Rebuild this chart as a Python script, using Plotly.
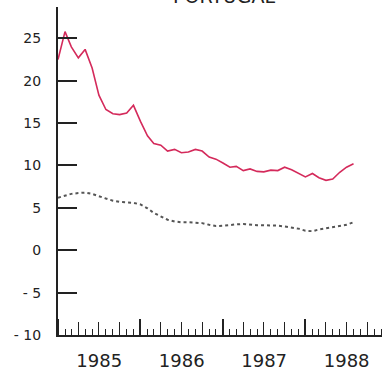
import plotly.graph_objects as go

# Monthly inflation, % year on year, from January 1985
months = [f"{1985 + i // 12}-{i % 12 + 1:02d}-01" for i in range(44)]

portugal = [
    22.5, 25.8, 24.0, 22.7, 23.7, 21.5, 18.3, 16.6, 16.1, 16.0, 16.2, 17.1,
    15.2, 13.5, 12.6, 12.4, 11.7, 11.9, 11.5, 11.6, 11.9, 11.7, 11.0, 10.75,
    10.3, 9.8, 9.9, 9.4, 9.6, 9.3, 9.25, 9.45, 9.4, 9.8, 9.5, 9.05,
    8.65, 9.05, 8.55, 8.25, 8.4, 9.2, 9.8, 10.2,
]

reference = [
    6.2, 6.45, 6.65, 6.75, 6.8, 6.65, 6.35, 6.1, 5.85, 5.7, 5.65, 5.6,
    5.4, 4.95, 4.4, 3.95, 3.6, 3.4, 3.3, 3.3, 3.25, 3.2, 3.0, 2.85,
    2.9, 3.0, 3.05, 3.1, 3.0, 2.95, 2.95, 2.95, 2.9, 2.8, 2.7, 2.55,
    2.3, 2.25, 2.45, 2.6, 2.7, 2.85, 3.0, 3.3,
]

y_ticks = [-10, -5, 0, 5, 10, 15, 20, 25]
y_labels = ["- 10", "- 5", "0", "5", "10", "15", "20", "25"]

title_text = "PORTUGAL"

ink = "#222222"
font_family = "DejaVu Sans"
x_range = ["1985-01-01", "1988-12-05"]

fig = go.Figure()

fig.add_trace(go.Scatter(
    x=months, y=reference, mode="lines",
    line=dict(color="#555555", width=2, dash="3px,3px"),
    xaxis="x2", hoverinfo="skip", showlegend=False,
))
fig.add_trace(go.Scatter(
    x=months, y=portugal, mode="lines",
    line=dict(color="#d42a5b", width=1.6),
    hoverinfo="skip", showlegend=False,
))

fig.add_annotation(
    text=title_text, xref="paper", yref="paper", x=0.512, y=0.994,
    xanchor="center", yanchor="bottom", showarrow=False,
    font=dict(family=font_family, size=19, color=ink),
)

fig.update_layout(
    width=382, height=371,
    margin=dict(l=58, r=0, t=7, b=34),
    paper_bgcolor="white", plot_bgcolor="white",
    showlegend=False,
    font=dict(family=font_family, color=ink),
    # yearly ticks with mid-year labels, monthly minor ticks
    xaxis=dict(
        type="date", range=x_range,
        showgrid=False, zeroline=False,
        showline=True, linecolor=ink, linewidth=2,
        ticks="inside", ticklen=16, tickwidth=1.5, tickcolor=ink,
        tick0="1985-01-01", dtick="M12",
        tickformat="%Y", ticklabelmode="period",
        tickfont=dict(size=18, color=ink),
        ticklabelstandoff=8,
        minor=dict(ticks="inside", ticklen=6, tickwidth=1.2,
                   tickcolor=ink, dtick="M1", tick0="1985-01-01",
                   showgrid=False),
    ),
    # quarterly ticks
    xaxis2=dict(
        type="date", matches="x", overlaying="x", anchor="y",
        showgrid=False, zeroline=False, showline=False,
        ticks="inside", ticklen=13, tickwidth=1.2, tickcolor=ink,
        tick0="1985-01-01", dtick="M3", showticklabels=False,
    ),
    yaxis=dict(
        range=[-10, 28.7],
        showgrid=False, zeroline=False,
        showline=True, linecolor=ink, linewidth=2,
        ticks="inside", ticklen=19, tickwidth=2, tickcolor=ink,
        tickvals=y_ticks, ticktext=y_labels,
        tickfont=dict(size=14, color=ink),
        ticklabelstandoff=12,
    ),
)

fig.write_html("out.html")
